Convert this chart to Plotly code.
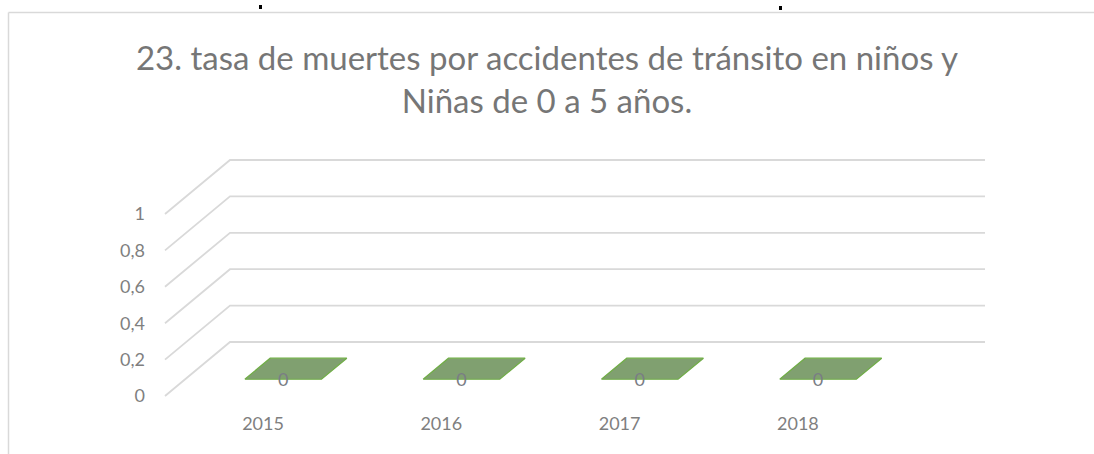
import plotly.graph_objects as go

# ---- data ----
categories = ["2015", "2016", "2017", "2018"]
values = [0, 0, 0, 0]
value_labels = ["0", "0", "0", "0"]
y_tick_values = [0, 0.2, 0.4, 0.6, 0.8, 1]
y_tick_labels = ["0", "0,2", "0,4", "0,6", "0,8", "1"]
title_text = "23. tasa de muertes por accidentes de tránsito en niños y<br>Niñas de 0 a 5 años."

# ---- geometry of the pseudo-3D frame (in axis units) ----
W_FIG, H_FIG = 1094, 454
M_L, M_R, M_T, M_B = 150, 94, 140, 43
PX_PER_CAT = 178.3
PX_PER_VAL = 182.0
plot_w = W_FIG - M_L - M_R
plot_h = H_FIG - M_T - M_B
x_zero_px = 263            # pixel of first category on front plane
y_zero_px = 396            # pixel of value 0 on front plane
x0 = -(x_zero_px - M_L) / PX_PER_CAT
x1 = x0 + plot_w / PX_PER_CAT
y1 = (y_zero_px - M_T) / PX_PER_VAL
y0 = y1 - plot_h / PX_PER_VAL

DX = 65 / PX_PER_CAT       # depth vector
DY = 54 / PX_PER_VAL
floor_left = (165 - x_zero_px) / PX_PER_CAT
floor_right = (985 - x_zero_px) / PX_PER_CAT - DX
bar_w = 0.43
d_front, d_back = 0.31, 0.70

GRID = "#d9d9d9"
BAR_FILL = "rgb(128,160,112)"
BAR_LINE = "#70ad47"
TXT = "#7f7f7f"
FONT = "Lato"

fig = go.Figure()

# gridlines: oblique side wall + back wall
for v in y_tick_values:
    fig.add_trace(go.Scatter(
        x=[floor_left, floor_left + DX, floor_right + DX],
        y=[v, v + DY, v + DY],
        mode="lines", line=dict(color=GRID, width=1.8),
        hoverinfo="skip", showlegend=False))

# bars (3D boxes)
for i, (cat, v) in enumerate(zip(categories, values)):
    xl = i - bar_w / 2 + d_front * DX
    xr = i + bar_w / 2 + d_front * DX
    yb = d_front * DY
    ddx = (d_back - d_front) * DX
    ddy = (d_back - d_front) * DY
    if v > 0:
        fig.add_trace(go.Scatter(
            x=[xl, xr, xr, xl, xl], y=[yb, yb, yb + v, yb + v, yb],
            fill="toself", fillcolor=BAR_FILL, mode="lines",
            line=dict(color=BAR_LINE, width=1), hoverinfo="skip", showlegend=False))
        fig.add_trace(go.Scatter(
            x=[xr, xr + ddx, xr + ddx, xr, xr],
            y=[yb, yb + ddy, yb + ddy + v, yb + v, yb],
            fill="toself", fillcolor=BAR_FILL, mode="lines",
            line=dict(color=BAR_LINE, width=1), hoverinfo="skip", showlegend=False))
    fig.add_trace(go.Scatter(
        x=[xl, xr, xr + ddx, xl + ddx, xl],
        y=[yb + v, yb + v, yb + v + ddy, yb + v + ddy, yb + v],
        fill="toself", fillcolor=BAR_FILL, mode="lines",
        line=dict(color=BAR_LINE, width=1.2), hoverinfo="skip", showlegend=False))

# data labels
fig.add_trace(go.Scatter(
    x=[i + d_front * DX for i in range(len(categories))],
    y=[v + d_front * DY - 2 / PX_PER_VAL for v in values],
    text=value_labels, mode="text", textposition="middle center",
    textfont=dict(family=FONT, size=18, color="#7a7d85"),
    hoverinfo="skip", showlegend=False))

def px_to_paper_x(px):
    return (px - M_L) / plot_w

def px_to_paper_y(py):
    return (H_FIG - M_B - py) / plot_h

shapes = [
    dict(type="line", xref="paper", yref="paper",
         x0=px_to_paper_x(8.5), x1=px_to_paper_x(1100), y0=px_to_paper_y(12.5), y1=px_to_paper_y(12.5),
         line=dict(color=GRID, width=1.5)),
    dict(type="line", xref="paper", yref="paper",
         x0=px_to_paper_x(8.5), x1=px_to_paper_x(8.5), y0=px_to_paper_y(12.5), y1=px_to_paper_y(460),
         line=dict(color=GRID, width=1.5)),
    dict(type="rect", xref="paper", yref="paper",
         x0=px_to_paper_x(259), x1=px_to_paper_x(262), y0=px_to_paper_y(5), y1=px_to_paper_y(9),
         fillcolor="black", line=dict(width=0)),
    dict(type="rect", xref="paper", yref="paper",
         x0=px_to_paper_x(779), x1=px_to_paper_x(782), y0=px_to_paper_y(6), y1=px_to_paper_y(10),
         fillcolor="black", line=dict(width=0)),
]

fig.update_layout(
    width=W_FIG, height=H_FIG,
    margin=dict(l=M_L, r=M_R, t=M_T, b=M_B),
    paper_bgcolor="white", plot_bgcolor="white",
    separators=",.",
    title=dict(text=title_text, x=0.5, xref="container", xanchor="center",
               y=1 - 70 / H_FIG, yref="container", yanchor="middle",
               font=dict(family=FONT, size=33, color="#767676")),
    xaxis=dict(range=[x0, x1], showgrid=False, zeroline=False, showline=False,
               tickmode="array", tickvals=list(range(len(categories))), ticktext=categories,
               ticks="", tickfont=dict(family=FONT, size=18, color=TXT), fixedrange=True),
    yaxis=dict(range=[y0, y1], showgrid=False, zeroline=False, showline=False,
               tickmode="array", tickvals=y_tick_values, ticktext=y_tick_labels,
               ticks="", ticklabelstandoff=4,
               tickfont=dict(family=FONT, size=18, color=TXT), fixedrange=True),
    shapes=shapes,
    showlegend=False,
)

fig.write_html("out.html", config={"displayModeBar": False},
               post_script="document.body.style.margin='0';")
